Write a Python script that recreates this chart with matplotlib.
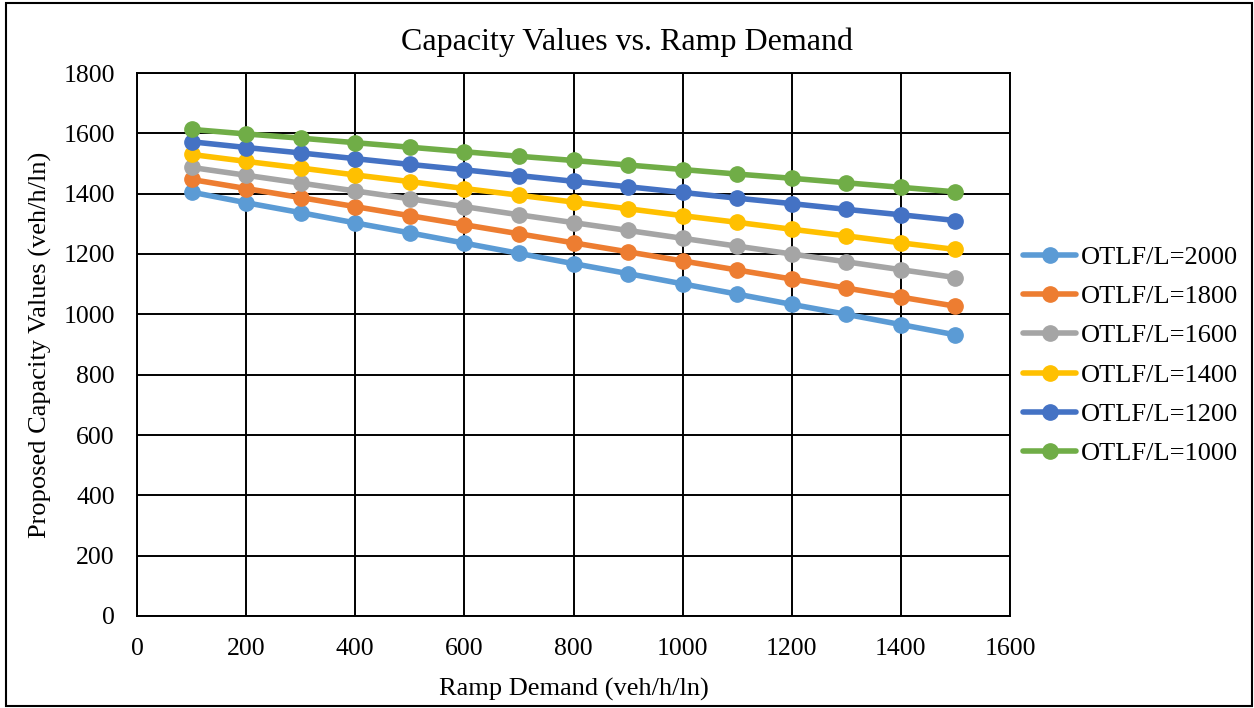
import matplotlib
matplotlib.use("Agg")
import matplotlib.pyplot as plt
from matplotlib.patches import Rectangle

plt.rcParams['font.family'] = ['Liberation Serif', 'DejaVu Serif']

# Ramp demand (veh/h/ln)
ramp_demand = [100, 200, 300, 400, 500, 600, 700, 800, 900, 1000, 1100, 1200, 1300, 1400, 1500]

# Proposed capacity values for each OTLF/L level
cap_2000 = [1405, 1370, 1337, 1303, 1270, 1236, 1202, 1168, 1135, 1101, 1067, 1033, 1000, 966, 932]
cap_1800 = [1447, 1417, 1387, 1357, 1327, 1297, 1267, 1237, 1207, 1177, 1147, 1117, 1087, 1057, 1027]
cap_1600 = [1487, 1461, 1435, 1409, 1383, 1357, 1330, 1304, 1278, 1252, 1226, 1200, 1174, 1148, 1122]
cap_1400 = [1530, 1507, 1485, 1462, 1440, 1417, 1395, 1372, 1350, 1327, 1305, 1282, 1260, 1237, 1215]
cap_1200 = [1572, 1553, 1535, 1516, 1497, 1479, 1460, 1441, 1423, 1404, 1385, 1367, 1348, 1330, 1311]
cap_1000 = [1613, 1598, 1584, 1569, 1554, 1539, 1524, 1510, 1495, 1480, 1465, 1451, 1436, 1421, 1406]

series_labels = ['OTLF/L=2000', 'OTLF/L=1800', 'OTLF/L=1600',
                 'OTLF/L=1400', 'OTLF/L=1200', 'OTLF/L=1000']
series_values = [cap_2000, cap_1800, cap_1600, cap_1400, cap_1200, cap_1000]
colors = ['#5B9BD5', '#ED7D31', '#A5A5A5', '#FFC000', '#4472C4', '#70AD47']

fig = plt.figure(figsize=(12.54, 7.08), dpi=100)
ax = fig.add_axes([137 / 1254, (708 - 616) / 708, (1010 - 137) / 1254, (616 - 73) / 708])

for vals, lab, col in zip(series_values, series_labels, colors):
    ax.plot(ramp_demand, vals, color=col, linewidth=4, marker='o',
            markersize=11, label=lab, solid_capstyle='round', zorder=3)

ax.set_xlim(0, 1600)
ax.set_ylim(0, 1800)
ax.set_xticks(range(0, 1601, 200))
ax.set_yticks(range(0, 1801, 200))
ax.grid(True, color='black', linewidth=1.4, zorder=0)
ax.set_axisbelow(True)
for sp in ax.spines.values():
    sp.set_color('black')
    sp.set_linewidth(1.4)
ax.tick_params(axis='both', length=0, labelsize=18.5)
ax.tick_params(axis='y', pad=16)
ax.tick_params(axis='x', pad=16)

# chart title is centred on the whole chart area, not the plot box
fig.text(0.5, (708 - 50) / 708, 'Capacity Values vs. Ramp Demand',
         fontsize=23, ha='center', va='baseline')
ax.set_xlabel('Ramp Demand (veh/h/ln)', fontsize=19, labelpad=13)
ax.set_ylabel('Proposed Capacity Values (veh/h/ln)', fontsize=19, labelpad=8)

ax.legend(loc='center left', bbox_to_anchor=(1.0, 0.48), frameon=False,
          fontsize=19, handlelength=2.0, handletextpad=0.2, labelspacing=0.6,
          borderaxespad=0.1)

# outer chart border
fig.patches.append(Rectangle((6 / 1254, 2 / 708), 1246 / 1254, 703 / 708,
                             transform=fig.transFigure, fill=False,
                             edgecolor='black', linewidth=1.5))

fig.savefig('out.png', dpi=100)
